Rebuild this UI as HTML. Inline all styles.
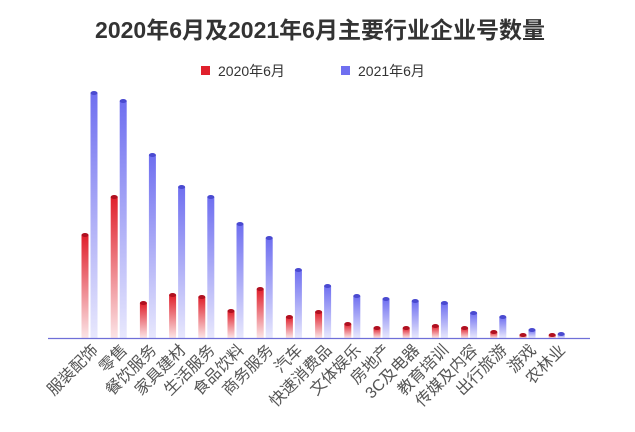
<!DOCTYPE html>
<html><head><meta charset="utf-8"><style>
body{margin:0;background:#fff;}
svg{display:block;font-family:"Liberation Sans","Noto Sans CJK SC",sans-serif;}
</style></head><body>
<svg width="635" height="432" viewBox="0 0 635 432" xmlns="http://www.w3.org/2000/svg">
<defs>
<linearGradient id="r" x1="0" y1="0" x2="0" y2="1"><stop offset="0" stop-color="#e0202c"/><stop offset="1" stop-color="#fbe4e6"/></linearGradient>
<linearGradient id="b" x1="0" y1="0" x2="0" y2="1"><stop offset="0" stop-color="#6f6ff0"/><stop offset="1" stop-color="#e8e8fd"/></linearGradient>
</defs>
<text x="320" y="38" text-anchor="middle" font-size="23" font-weight="bold" fill="#333">2020年6月及2021年6月主要行业企业号数量</text>
<rect x="201" y="66" width="9" height="9" fill="#e0202c"/>
<text x="218" y="76" font-size="14" fill="#333">2020年6月</text>
<rect x="341" y="66" width="9" height="9" fill="#6f6ff0"/>
<text x="358" y="76" font-size="14" fill="#333">2021年6月</text>
<g id="bars"></g>
<line x1="48" y1="338.5" x2="590" y2="338.5" stroke="#6f6fd8" stroke-width="1.2"/>
<g id="labels" font-size="16" fill="#555"></g>
<script>
var rt=[235,197,303,295,297,311,289,317,312,324,328,328,326,328,332,335,335];
var bt=[93,101,155,187,197,224,238,270,286,296,299,301,303,313,317,330,334];
var lb=["服装配饰","零售","餐饮服务","家具建材","生活服务","食品饮料","商务服务","汽车","快速消费品","文体娱乐","房地产","3C及电器","教育培训","传媒及内容","出行旅游","游戏","农林业"];
var ns="http://www.w3.org/2000/svg",g=document.getElementById("bars"),L=document.getElementById("labels");
function bar(x,t,f,c){var r=document.createElementNS(ns,"rect");r.setAttribute("x",x-3.5);r.setAttribute("y",t);r.setAttribute("width",7);r.setAttribute("height",338-t);r.setAttribute("fill",f);g.appendChild(r);
var e=document.createElementNS(ns,"ellipse");e.setAttribute("cx",x);e.setAttribute("cy",t);e.setAttribute("rx",3.5);e.setAttribute("ry",2);e.setAttribute("fill",c);g.appendChild(e);}
for(var i=0;i<17;i++){var x=85+i*29.2;bar(x,rt[i],"url(#r)","#b01020");bar(x+9,bt[i],"url(#b)","#4a4ad0");
var t=document.createElementNS(ns,"text");t.setAttribute("text-anchor","end");t.setAttribute("transform","translate("+(x+14)+",351) rotate(-45)");t.textContent=lb[i];L.appendChild(t);}
</script>
</svg>
</body></html>
